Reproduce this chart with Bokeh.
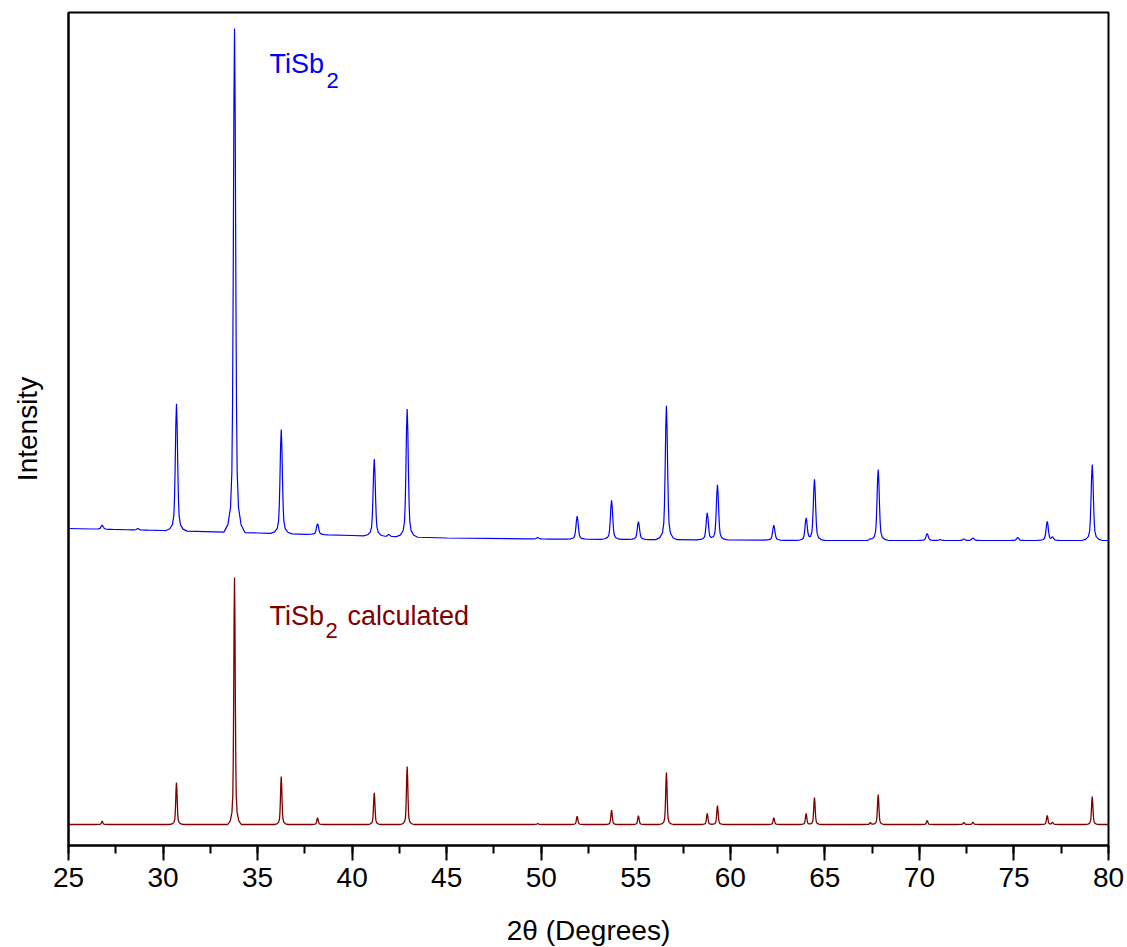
import numpy as np
from bokeh.plotting import figure
from bokeh.models import Range1d, SingleIntervalTicker, FixedTicker, Label
from bokeh.embed import file_html
from bokeh.resources import INLINE

# ---------------- data ----------------
# Measured pattern (TiSb2): peak positions (2theta, deg) and heights (a.u.) above background
blue_pos = [26.78, 28.67, 30.71, 33.78, 36.25, 38.17, 41.17, 41.94, 42.91, 49.82,
            51.90, 53.72, 55.14, 56.62, 58.78, 59.32, 62.30, 64.01, 64.45, 67.41,
            67.82, 70.41, 71.10, 72.35, 72.83, 75.20, 76.76, 77.04, 79.14]
blue_int = [4, 1.5, 127, 504, 104, 11, 77, 2, 128, 1.5,
            23, 39, 18, 134, 27, 55, 15, 22, 61, 1,
            71, 7, 1, 1.5, 2.5, 3, 19, 3, 76]
# Measured background (2theta, a.u.)
blue_bg_x = [25, 30, 35, 40, 45, 50, 55, 60, 65, 70, 75, 80]
blue_bg_y = [317, 315, 312.5, 310, 307.5, 306.5, 306, 305.5, 305, 305, 305, 305]

# Calculated pattern (TiSb2 calculated)
red_pos = [26.78, 30.71, 33.78, 36.25, 38.17, 41.17, 42.91, 49.82, 51.90, 53.72,
           55.14, 56.62, 58.78, 59.32, 62.30, 64.01, 64.45, 67.41, 67.82, 70.41,
           72.35, 72.83, 76.76, 77.04, 79.14]
red_int = [3.3, 42, 247, 48, 6.7, 31.7, 58, 1, 8.3, 14.3,
           8.7, 52, 11, 19, 6.7, 11, 27, 2, 30, 4,
           2, 2.3, 9, 2.3, 28]
red_bg_x = [25, 80]
red_bg_y = [21, 21]

# peak half-widths (deg) and tabulated peak-profile shape (offset in half-widths, fraction of height)
blue_hw = 0.07
red_hw = 0.045
shape_u = [-8, -5, -3, -2, -1.5, -1, -0.5, 0, 0.5, 1, 1.5, 2, 3, 5, 8]
shape_f = [0.0, 0.015, 0.05, 0.12, 0.25, 0.5, 0.83, 1.0, 0.83, 0.5, 0.25, 0.12, 0.05, 0.015, 0.0]

x_ticks_interval = 5


def build_pattern(pos, inten, hw, bg_x, bg_y):
    su = np.array(shape_u)
    xs = list(bg_x)
    for p in pos:
        xs.extend(list(p + su * hw))
    xs = np.unique(np.array(xs))
    xs = xs[(xs >= bg_x[0]) & (xs <= bg_x[-1])]
    ys = np.interp(xs, bg_x, bg_y)
    for p, h in zip(pos, inten):
        ys = ys + h * np.interp((xs - p) / hw, shape_u, shape_f, left=0.0, right=0.0)
    return xs, ys


bx, by = build_pattern(blue_pos, blue_int, blue_hw, blue_bg_x, blue_bg_y)
rx, ry = build_pattern(red_pos, red_int, red_hw, red_bg_x, red_bg_y)

BLUE = "#0000FF"
RED = "#800000"
FONT = "Liberation Sans"

p = figure(frame_width=1040, frame_height=833,
           min_border_left=68, min_border_right=19,
           min_border_top=12, min_border_bottom=102,
           x_range=Range1d(25, 80), y_range=Range1d(0, 833),
           output_backend="svg", toolbar_location=None,
           background_fill_color="white", border_fill_color="white")

p.line(bx, by, line_color=BLUE, line_width=1.2)
p.line(rx, ry, line_color=RED, line_width=1.3)

p.grid.visible = False
p.outline_line_color = "black"
p.outline_line_width = 2

xa = p.xaxis[0]
xa.ticker = SingleIntervalTicker(interval=x_ticks_interval, num_minor_ticks=2)
xa.axis_line_width = 2
xa.major_tick_line_width = 2
xa.minor_tick_line_width = 2
xa.major_tick_out = 15
xa.major_tick_in = 0
xa.minor_tick_out = 8
xa.minor_tick_in = 0
xa.major_label_text_font = FONT
xa.major_label_text_font_size = "28px"
xa.major_label_text_color = "black"
xa.major_label_standoff = 7
xa.axis_label = "2θ (Degrees)"
xa.axis_label_text_font = FONT
xa.axis_label_text_font_size = "28px"
xa.axis_label_text_font_style = "normal"
xa.axis_label_text_color = "black"
xa.axis_label_standoff = 25

ya = p.yaxis[0]
ya.ticker = FixedTicker(ticks=[])
ya.axis_line_width = 2
ya.major_tick_line_color = None
ya.minor_tick_line_color = None
ya.major_label_text_font_size = "0px"
ya.axis_label = "Intensity"
ya.axis_label_text_font = FONT
ya.axis_label_text_font_size = "28px"
ya.axis_label_text_font_style = "normal"
ya.axis_label_text_color = "black"
ya.axis_label_standoff = 26

labels = [
    ("TiSb", 35.63, 782, "27px", BLUE),
    ("2", 38.64, 765, "22px", BLUE),
    ("TiSb", 35.63, 230, "27px", RED),
    ("2", 38.59, 215, "22px", RED),
    ("calculated", 39.75, 230, "27px", RED),
]
for t, x, y, fs, c in labels:
    p.add_layout(Label(x=x, y=y, text=t, text_font=FONT, text_font_size=fs,
                       text_color=c, text_baseline="alphabetic", text_align="left"))

open("out.html", "w").write(file_html(p, INLINE))
